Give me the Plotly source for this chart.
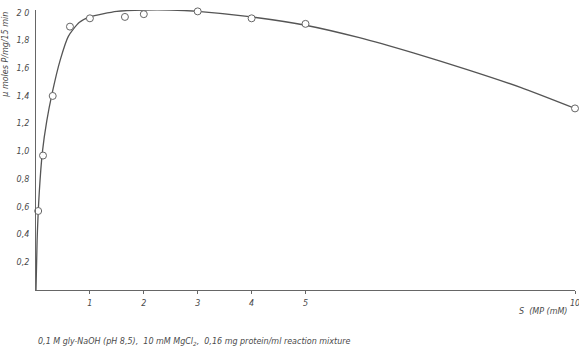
import plotly.graph_objects as go

# measured points
s_mm = [0.04, 0.13, 0.31, 0.63, 1.0, 1.65, 2.0, 3.0, 4.0, 5.0, 10.0]
rate = [0.57, 0.97, 1.40, 1.90, 1.96, 1.97, 1.99, 2.01, 1.96, 1.92, 1.31]

# fitted curve
curve_x = [0.0, 0.02, 0.06, 0.12, 0.2, 0.3, 0.45, 0.6, 0.8, 1.0, 1.5, 2.0, 2.5, 3.0, 4.0, 5.0, 6.0, 7.0, 8.0, 9.0, 10.0]
curve_y = [0.0, 0.35, 0.70, 1.0, 1.22, 1.42, 1.66, 1.83, 1.93, 1.97, 2.01, 2.02, 2.02, 2.01, 1.97, 1.91, 1.82, 1.71, 1.59, 1.46, 1.31]

x_ticks = [1, 2, 3, 4, 5, 10]
x_labels = ["1", "2", "3", "4", "5", "10"]
y_ticks = [0.2, 0.4, 0.6, 0.8, 1.0, 1.2, 1.4, 1.6, 1.8, 2.0]
y_labels = ["0,2", "0,4", "0,6", "0,8", "1,0", "1,2", "1,4", "1,6", "1,8", "2 0"]

ink = "#4a4a4a"
fam = "DejaVu Sans, sans-serif"

fig = go.Figure()
fig.add_trace(go.Scatter(x=curve_x, y=curve_y, mode="lines", line=dict(color="#555555", width=1.3, shape="spline", smoothing=0.6),
                         hoverinfo="skip", showlegend=False, cliponaxis=False))
fig.add_trace(go.Scatter(x=s_mm, y=rate, mode="markers",
                         marker=dict(symbol="circle", size=7, color="white", line=dict(color="#666666", width=1)),
                         showlegend=False, cliponaxis=False))

fig.update_layout(
    width=579, height=350, margin=dict(l=36, r=4, t=10, b=60, autoexpand=False),
    paper_bgcolor="white", plot_bgcolor="white",
    xaxis=dict(range=[0, 10], tickvals=x_ticks, ticktext=x_labels, showgrid=False, zeroline=False, automargin=False,
               showline=True, linecolor="#666666", linewidth=1.2, ticks="outside", ticklen=3, tickcolor="#666666",
               ticklabeloverflow="allow",
               tickfont=dict(family=fam, size=8, color=ink, style="italic"), ticklabelstandoff=2),
    yaxis=dict(range=[0, 2.02], tickvals=y_ticks, ticktext=y_labels, showgrid=False, zeroline=False, automargin=False,
               showline=True, linecolor="#666666", linewidth=1.2, ticks="",
               tickfont=dict(family=fam, size=8, color=ink, style="italic"), ticklabelstandoff=4),
)

fig.add_annotation(text="μ moles P/mg/15 min", xref="paper", yref="paper", x=-0.058, y=1.0, xanchor="center", yanchor="top",
                   textangle=-90, showarrow=False, font=dict(family=fam, size=8, color=ink, style="italic"))
fig.add_annotation(text="S  (MP (mM)", xref="paper", yref="paper", x=0.99, y=-0.055, xanchor="right", yanchor="top",
                   showarrow=False, font=dict(family=fam, size=8, color=ink, style="italic"))
fig.add_annotation(text="0,1 M gly-NaOH (pH 8,5),  10 mM MgCl<sub>2</sub>,  0,16 mg protein/ml reaction mixture",
                   xref="paper", yref="paper", x=0.0, y=-0.16, xanchor="left", yanchor="top",
                   showarrow=False, font=dict(family=fam, size=8, color=ink, style="italic"))

fig.write_html("out.html", config={"displayModeBar": False},
               post_script="document.body.style.margin='0';document.body.style.overflow='hidden';")
